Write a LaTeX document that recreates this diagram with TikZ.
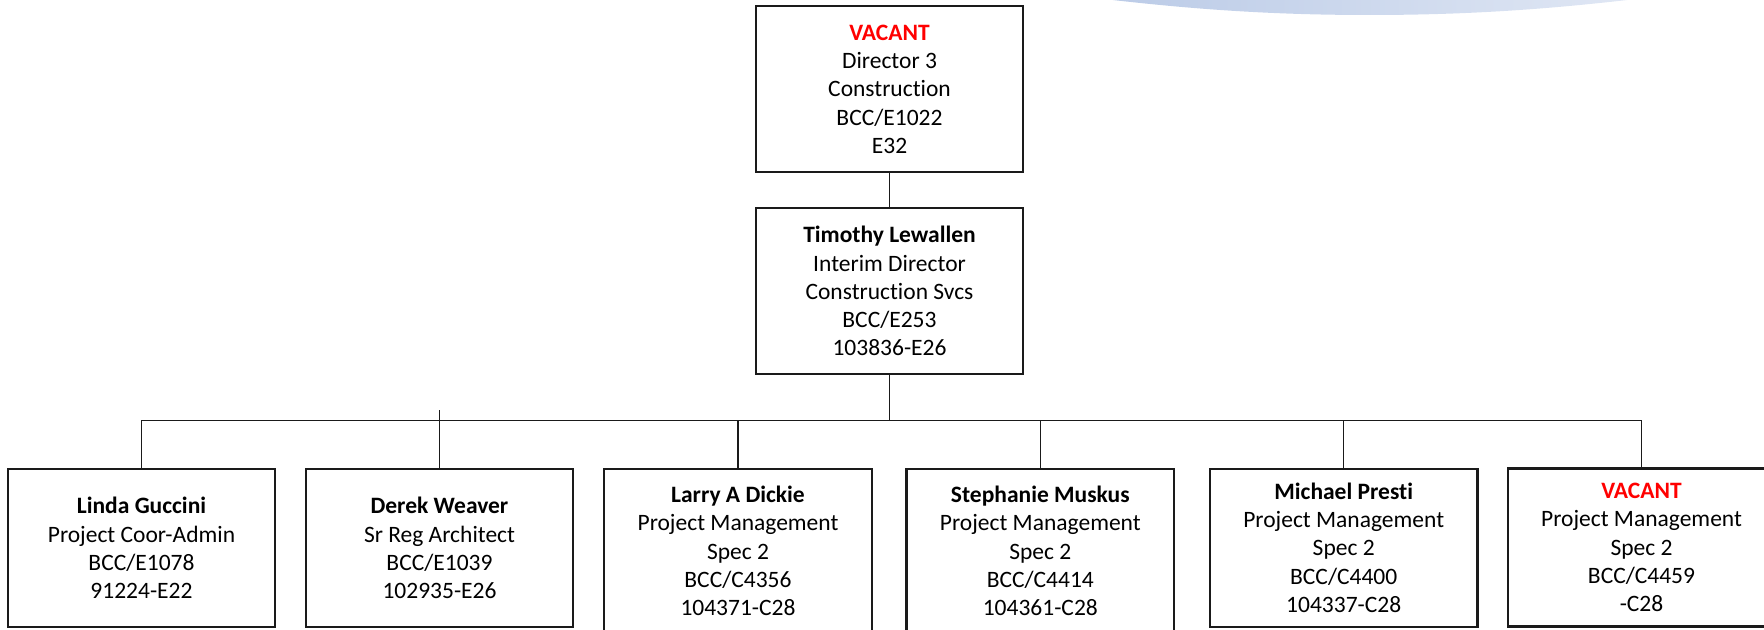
\documentclass[tikz,border=0pt]{standalone}
\usepackage{fontspec}
\setmainfont{Carlito}[Ligatures=NoCommon]
\definecolor{vacred}{HTML}{FF0000}
\definecolor{swoopL}{HTML}{BBCBE7}
\definecolor{swoopR}{HTML}{E0E7F4}
\definecolor{edge}{HTML}{1A1A1A}
\tikzset{
  orgbox/.style={draw=edge, line width=1.1pt, fill=white, inner sep=0pt,
    align=center, font=\fontsize{11.75}{14.15}\selectfont,
    minimum width=133.8pt},
  toprow/.style={orgbox, minimum height=83pt},
  botrow/.style={orgbox, minimum height=79pt},
  wire/.style={draw=edge, line width=0.55pt},
}
\begin{document}
\begin{tikzpicture}[x=0.5pt, y=-0.5pt]
  % page frame, 1764 x 630 units
  \useasboundingbox (0,0) rectangle (1764,630);
  \clip (0,0) rectangle (1764,630);

  % decorative swoosh along the top edge
  \shade[left color=swoopL, right color=swoopR]
    (1104,-1) .. controls (1190,9) and (1270,15) .. (1369,15)
    .. controls (1470,15) and (1550,9) .. (1636,-1) -- cycle;

  % director level
  \node[toprow] (dir) at (889.5,89.2)
    {{\bfseries\color{vacred}VACANT}\\Director 3\\Construction\\BCC/E1022\\E32};
  \node[toprow] (tl) at (889.5,291.2)
    {\textbf{Timothy Lewallen}\\Interim Director\\Construction Svcs\\BCC/E253\\103836-E26};

  % staff level
  \node[botrow] (lg) at (141.5,548)
    {\textbf{Linda Guccini}\\Project Coor-Admin\\BCC/E1078\\91224-E22};
  \node[botrow] (dw) at (439.5,548)
    {\textbf{Derek Weaver}\\Sr Reg Architect\\BCC/E1039\\102935-E26};
  \node[botrow, minimum height=82pt] (ld) at (738,551)
    {\textbf{Larry A Dickie}\\Project Management\\Spec 2\\BCC/C4356\\104371-C28};
  \node[botrow, minimum height=82pt] (sm) at (1040.3,551)
    {\textbf{Stephanie Muskus}\\Project Management\\Spec 2\\BCC/C4414\\104361-C28};
  \node[botrow] (mp) at (1343.7,547.8)
    {\textbf{Michael Presti}\\Project Management\\Spec 2\\BCC/C4400\\104337-C28};
  \node[botrow] (vc) at (1641.5,547.5)
    {{\bfseries\color{vacred}VACANT}\\Project Management\\Spec 2\\BCC/C4459\\-C28};

  % reporting lines
  \coordinate (bus) at (889.5,420.5);
  \coordinate (stub) at (439.5,410);
  \draw[wire] (dir.south) -- (tl.north);
  \draw[wire] (tl.south) -- (bus);
  \draw[wire] (lg.north) -- (lg.north |- bus) -- (vc.north |- bus) -- (vc.north);
  \draw[wire] (dw.north) -- (dw.north |- stub);
  \draw[wire] (ld.north) -- (ld.north |- bus);
  \draw[wire] (sm.north) -- (sm.north |- bus);
  \draw[wire] (mp.north) -- (mp.north |- bus);
\end{tikzpicture}
\end{document}
